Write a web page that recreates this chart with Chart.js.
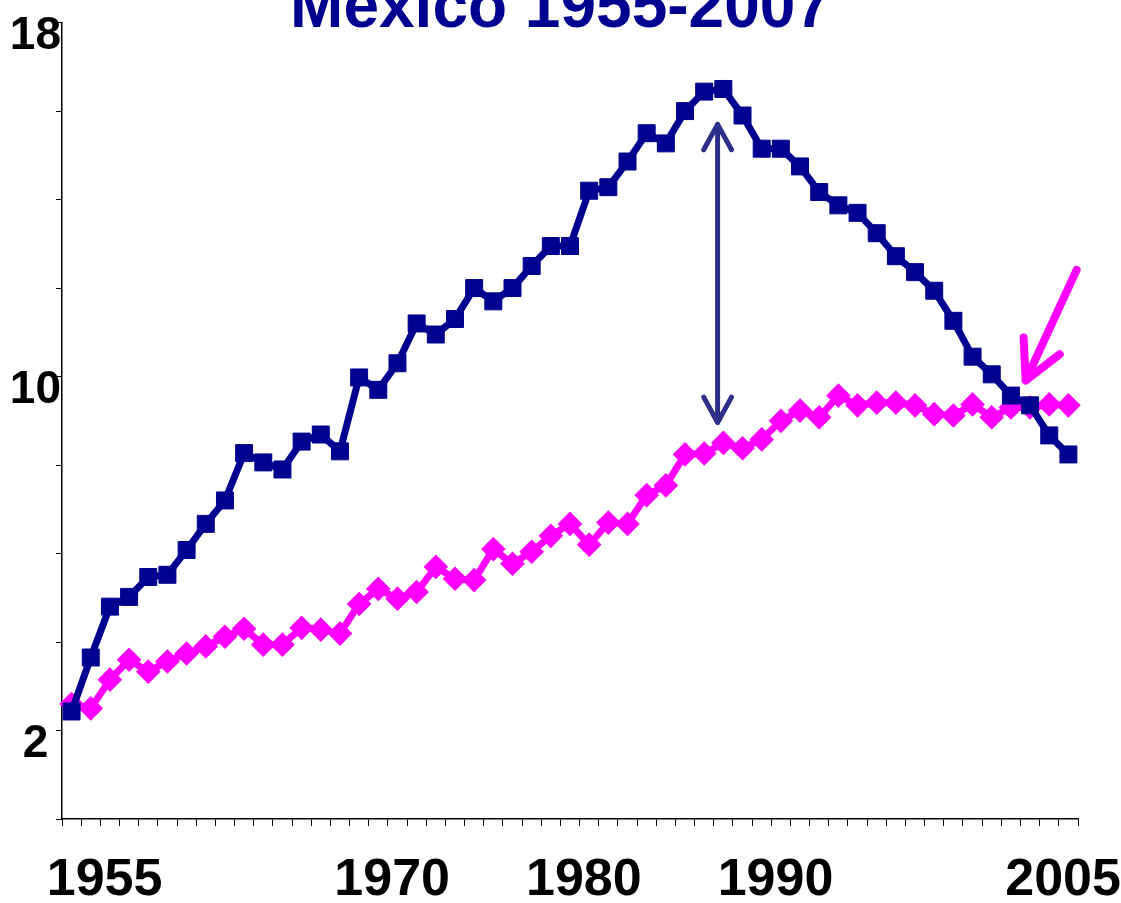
<!DOCTYPE html>
<html>
<head>
<meta charset="utf-8">
<script src="https://cdn.jsdelivr.net/npm/chart.js@4"></script>
<style>
  html, body { margin: 0; padding: 0; background: #fff; }
  #wrap { width: 1121px; height: 903px; }
</style>
</head>
<body>
<div id="wrap"><canvas id="chart"></canvas></div>
<script>
// years on the x axis
const years = [1955,1956,1957,1958,1959,1960,1961,1962,1963,1964,1965,1966,1967,1968,1969,
  1970,1971,1972,1973,1974,1975,1976,1977,1978,1979,1980,1981,1982,1983,1984,1985,1986,1987,
  1988,1989,1990,1991,1992,1993,1994,1995,1996,1997,1998,1999,2000,2001,2002,2003,2004,2005,
  2006,2007];
const shownYears = [1955, 1970, 1980, 1990, 2005];
const shownYTicks = [2, 10, 18];

// navy series (squares)
const navySeries = [2.43,3.65,4.80,5.02,5.47,5.52,6.08,6.67,7.20,8.27,8.06,7.90,8.53,8.69,8.31,
  9.98,9.70,10.30,11.20,10.95,11.30,12.00,11.70,12.00,12.50,12.95,12.95,14.20,14.28,14.86,15.50,
  15.27,16.00,16.44,16.50,15.90,15.15,15.15,14.75,14.17,13.87,13.70,13.24,12.72,12.36,11.94,
  11.26,10.45,10.05,9.57,9.35,8.67,8.24];

// magenta series (diamonds)
const pinkSeries = [2.60,2.50,3.15,3.60,3.33,3.56,3.74,3.90,4.12,4.30,3.94,3.94,4.32,4.28,4.19,
  4.86,5.20,4.98,5.13,5.70,5.43,5.40,6.10,5.77,6.04,6.40,6.67,6.20,6.70,6.67,7.32,7.54,8.24,
  8.26,8.50,8.38,8.58,9.00,9.23,9.08,9.57,9.35,9.41,9.41,9.35,9.15,9.12,9.37,9.08,9.30,9.30,
  9.37,9.35];

// annotation arrows, in data units (category index, value)
const gapArrow = { x: 33.7, from: 15.7, to: 8.96 };
const crossArrow = { tailX: 52.43, tailY: 12.41, tipX: 49.77, tipY: 9.91 };

const NAVY = '#000090';
const PINK = '#ff00ff';

Chart.defaults.font.family = "'Liberation Sans', Arial, sans-serif";
Chart.defaults.color = '#000';

function arrowHead(ctx, tx, ty, dx, dy, len, ang) {
  // dx,dy: unit vector pointing from tip back along the shaft
  const a = Math.atan2(dy, dx);
  ctx.moveTo(tx + len * Math.cos(a + ang), ty + len * Math.sin(a + ang));
  ctx.lineTo(tx, ty);
  ctx.lineTo(tx + len * Math.cos(a - ang), ty + len * Math.sin(a - ang));
}

const arrows = {
  id: 'arrows',
  afterDatasetsDraw(chart) {
    const { ctx, scales: { x, y } } = chart;
    ctx.save();
    ctx.lineCap = 'round';
    ctx.lineJoin = 'round';

    // double headed arrow showing the gap
    const gx = x.getPixelForValue(gapArrow.x);
    const y1 = y.getPixelForValue(gapArrow.from);
    const y2 = y.getPixelForValue(gapArrow.to);
    ctx.strokeStyle = '#2e2f88';
    ctx.lineWidth = 5;
    ctx.beginPath();
    ctx.moveTo(gx, y1);
    ctx.lineTo(gx, y2);
    arrowHead(ctx, gx, y1, 0, 1, 29, 0.5);
    arrowHead(ctx, gx, y2, 0, -1, 29, 0.5);
    ctx.stroke();

    // magenta pointer at the crossing
    const tx = x.getPixelForValue(crossArrow.tipX);
    const ty = y.getPixelForValue(crossArrow.tipY);
    const sx = x.getPixelForValue(crossArrow.tailX);
    const sy = y.getPixelForValue(crossArrow.tailY);
    const L = Math.hypot(sx - tx, sy - ty);
    ctx.strokeStyle = PINK;
    ctx.lineWidth = 8;
    ctx.beginPath();
    ctx.moveTo(sx, sy);
    ctx.lineTo(tx, ty);
    arrowHead(ctx, tx, ty, (sx - tx) / L, (sy - ty) / L, 43, 0.48);
    ctx.stroke();
    ctx.restore();
  }
};

new Chart(document.getElementById('chart'), {
  type: 'line',
  data: {
    labels: years,
    datasets: [
      {
        label: 'Navy',
        data: navySeries,
        borderColor: NAVY,
        backgroundColor: NAVY,
        borderWidth: 7,
        pointStyle: 'rect',
        pointRadius: 12,
        pointBorderWidth: 1,
        pointBorderColor: NAVY,
        pointBackgroundColor: NAVY,
        tension: 0
      },
      {
        label: 'Magenta',
        data: pinkSeries,
        borderColor: PINK,
        backgroundColor: PINK,
        borderWidth: 7,
        pointStyle: 'rectRot',
        pointRadius: 9.5,
        pointBorderWidth: 4,
        pointBorderColor: PINK,
        pointBackgroundColor: PINK,
        tension: 0
      }
    ]
  },
  options: {
    responsive: true,
    maintainAspectRatio: false,
    animation: false,
    layout: { padding: 0 },
    plugins: {
      legend: { display: false },
      tooltip: { enabled: false },
      title: {
        display: true,
        text: 'Mexico 1955-2007',
        color: NAVY,
        font: { size: 64, weight: 'bold', lineHeight: 1 },
        padding: { top: -26, bottom: -19 }
      }
    },
    scales: {
      x: {
        type: 'category',
        offset: true,
        grid: {
          offset: true,
          drawOnChartArea: false,
          drawTicks: true,
          tickLength: 7,
          color: '#000',
          lineWidth: 1
        },
        border: { display: true, color: '#000', width: 1.5 },
        ticks: {
          autoSkip: false,
          maxRotation: 0,
          minRotation: 0,
          labelOffset: 33,
          padding: 23,
          font: { size: 52, weight: 'bold' },
          color: '#000',
          callback: function (val, idx) {
            const yr = years[idx];
            return shownYears.includes(yr) ? String(yr) : '';
          }
        },
        afterFit: function (scale) {
          scale.height = 84;
          scale.paddingLeft = 0;
          scale.paddingRight = 43;
        }
      },
      y: {
        min: 0,
        max: 18,
        grid: {
          drawOnChartArea: false,
          drawTicks: true,
          tickLength: 6,
          color: '#000',
          lineWidth: 1
        },
        border: { display: true, color: '#000', width: 1.5 },
        ticks: {
          stepSize: 2,
          crossAlign: 'center',
          padding: -5,
          labelOffset: 14,
          font: { size: 46, weight: 'bold' },
          color: '#000',
          callback: function (v) { return shownYTicks.includes(v) ? String(v) : ''; }
        },
        afterFit: function (scale) { scale.width = 62; }
      }
    }
  },
  plugins: [arrows]
});
</script>
</body>
</html>
